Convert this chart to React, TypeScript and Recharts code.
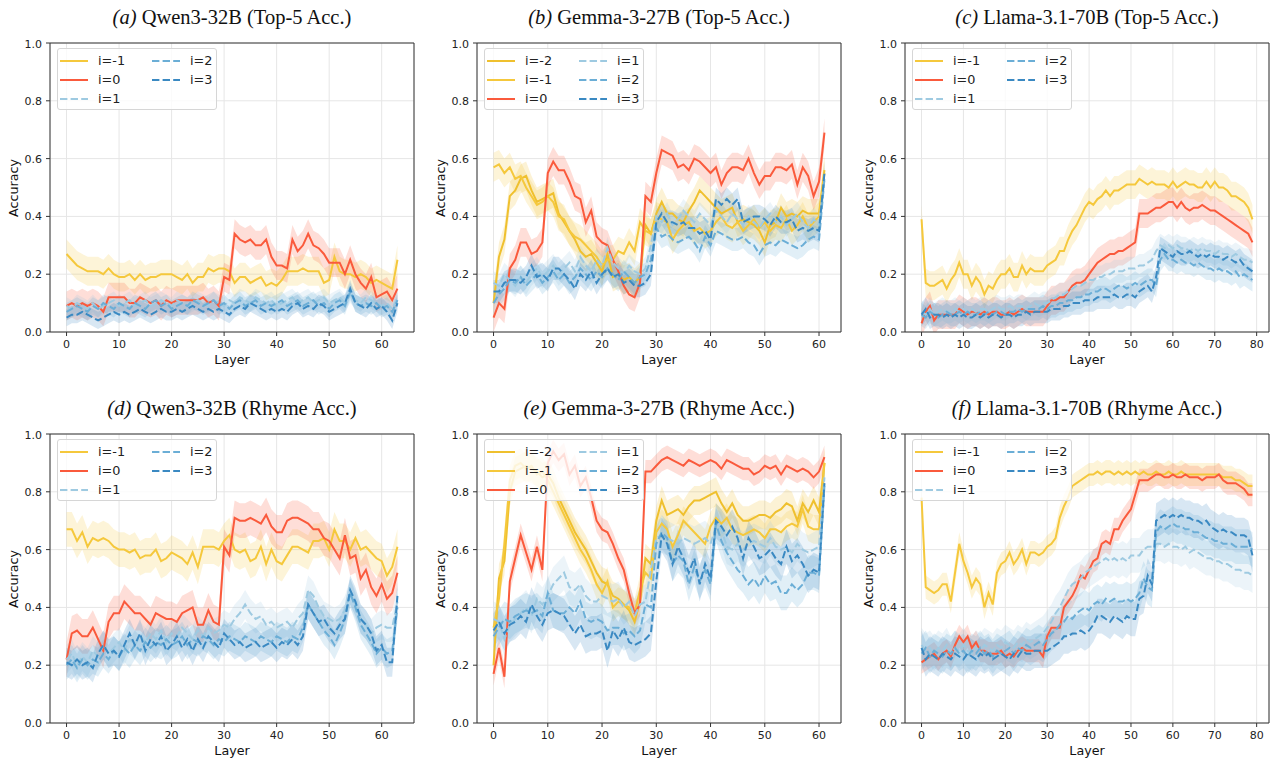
import { ComposedChart, Line, Area, XAxis, YAxis, CartesianGrid, ReferenceArea } from 'recharts';

const FONT = '"DejaVu Sans", sans-serif';
const SERIF = '"Liberation Serif", "Times New Roman", serif';

const GOLD = '#F5C83C';
const GOLD_2 = '#EFC02E';
const RED = '#FA5A3C';
const BLUE_1 = '#9ECAE1';
const BLUE_2 = '#6BAED6';
const BLUE_3 = '#3A89C2';

// layer indices (x categories)
const QWEN_LAYERS = Array.from({ length: 64 }, (_, i) => i);
const GEMMA_LAYERS = Array.from({ length: 62 }, (_, i) => i);
const LLAMA_LAYERS = Array.from({ length: 80 }, (_, i) => i);

const TICKS_60 = [0, 10, 20, 30, 40, 50, 60];
const TICKS_80 = [0, 10, 20, 30, 40, 50, 60, 70, 80];
const Y_TICKS = [0, 20, 40, 60, 80, 100];

const LABELS_5 = ['i=-1', 'i=0', 'i=1', 'i=2', 'i=3'];
const LABELS_6 = ['i=-2', 'i=-1', 'i=0', 'i=1', 'i=2', 'i=3'];
const COLORS_5 = [GOLD, RED, BLUE_1, BLUE_2, BLUE_3];
const COLORS_6 = [GOLD_2, GOLD, RED, BLUE_1, BLUE_2, BLUE_3];

// all accuracies in percent
const QWEN_TOP5_IM1 = [
  27, 25, 23, 22, 21, 21, 21, 20, 22, 20,
  19, 19, 20, 18, 20, 18, 19, 19, 20, 20,
  20, 19, 18, 20, 17, 19, 19, 22, 21, 22,
  22, 21, 17, 19, 19, 17, 18, 19, 16, 17,
  16, 18, 21, 21, 21, 22, 21, 21, 21, 17,
  18, 26, 21, 20, 20, 19, 20, 19, 17, 18,
  17, 16, 15, 25];
const QWEN_TOP5_I0 = [
  9, 10, 9, 10, 9, 10, 9, 7, 12, 12,
  12, 12, 10, 10, 12, 11, 10, 11, 9, 11,
  10, 11, 11, 11, 11, 11, 12, 10, 11, 9,
  19, 18, 34, 32, 31, 32, 30, 30, 32, 26,
  23, 23, 22, 32, 28, 30, 34, 30, 29, 27,
  24, 24, 24, 20, 25, 20, 17, 15, 19, 12,
  13, 14, 11, 15];
const QWEN_TOP5_I1 = [
  9, 8, 10, 9, 8, 10, 8, 9, 10, 11,
  9, 10, 11, 9, 10, 11, 9, 10, 11, 10,
  9, 11, 10, 9, 10, 11, 10, 9, 11, 10,
  9, 11, 10, 12, 11, 10, 12, 11, 10, 11,
  9, 10, 11, 12, 10, 11, 12, 10, 11, 12,
  10, 11, 12, 10, 13, 11, 10, 12, 11, 10,
  9, 10, 8, 12];
const QWEN_TOP5_I2 = [
  7, 8, 9, 8, 7, 9, 8, 10, 9, 8,
  10, 9, 8, 10, 9, 8, 10, 11, 9, 10,
  8, 9, 10, 9, 11, 10, 9, 10, 11, 9,
  10, 8, 10, 11, 9, 10, 11, 9, 10, 9,
  10, 11, 9, 10, 11, 9, 10, 11, 9, 10,
  8, 10, 11, 9, 14, 10, 9, 10, 9, 10,
  8, 9, 7, 11];
const QWEN_TOP5_I3 = [
  5, 6, 6, 7, 6, 5, 4, 5, 6, 7,
  6, 7, 6, 7, 8, 7, 6, 7, 8, 7,
  7, 8, 7, 8, 9, 8, 7, 8, 7, 8,
  7, 6, 8, 9, 8, 10, 9, 8, 7, 8,
  7, 8, 7, 9, 10, 8, 9, 8, 10, 9,
  7, 8, 9, 10, 15, 10, 9, 8, 10, 8,
  9, 7, 4, 10];
const QWEN_TOP5_BAND = [5, 5, 3, 3, 3];

const GEMMA_TOP5_IM2 = [
  10, 26, 32, 47, 49, 53, 54, 49, 45, 46,
  47, 48, 41, 38, 35, 32, 28, 26, 27, 24,
  21, 27, 19, 20, 18, 19, 17, 19, 37, 34,
  41, 45, 41, 41, 39, 38, 42, 45, 49, 47,
  45, 43, 41, 42, 43, 38, 39, 38, 37, 35,
  31, 37, 38, 43, 40, 41, 40, 42, 41, 41,
  41, 56];
const GEMMA_TOP5_IM1 = [
  57, 58, 55, 57, 53, 54, 50, 47, 44, 45,
  47, 45, 40, 39, 35, 33, 32, 30, 28, 26,
  23, 25, 25, 28, 27, 31, 28, 38, 35, 34,
  40, 39, 38, 32, 35, 37, 38, 35, 36, 34,
  35, 38, 40, 37, 36, 38, 35, 37, 39, 36,
  38, 35, 37, 36, 39, 35, 37, 40, 36, 38,
  40, 55];
const GEMMA_TOP5_I0 = [
  5, 10, 8, 22, 25, 31, 31, 27, 28, 31,
  55, 59, 56, 56, 52, 47, 46, 38, 42, 33,
  31, 30, 25, 21, 16, 13, 12, 17, 47, 45,
  55, 63, 62, 61, 57, 58, 56, 60, 59, 57,
  55, 57, 51, 55, 57, 57, 56, 60, 55, 51,
  54, 54, 57, 57, 56, 58, 51, 57, 54, 47,
  52, 69];
const GEMMA_TOP5_I1 = [
  17, 16, 20, 18, 16, 19, 17, 20, 22, 19,
  21, 23, 20, 22, 24, 21, 26, 23, 21, 25,
  23, 29, 24, 22, 20, 23, 21, 20, 22, 30,
  40, 38, 41, 37, 39, 42, 40, 38, 41, 39,
  37, 42, 40, 38, 41, 39, 37, 40, 38, 36,
  39, 41, 38, 40, 37, 39, 41, 38, 36, 39,
  37, 53];
const GEMMA_TOP5_I2 = [
  10, 13, 15, 18, 17, 19, 16, 18, 20, 17,
  19, 21, 18, 20, 17, 19, 22, 20, 18, 21,
  19, 22, 20, 18, 21, 19, 17, 19, 20, 25,
  36, 33, 34, 32, 31, 32, 33, 31, 28, 33,
  30, 35, 34, 33, 32, 32, 33, 31, 30, 27,
  30, 31, 30, 32, 31, 30, 29, 30, 32, 33,
  32, 53];
const GEMMA_TOP5_I3 = [
  14, 14, 17, 18, 18, 17, 19, 23, 19, 20,
  18, 22, 22, 20, 18, 15, 20, 18, 21, 17,
  20, 22, 19, 20, 17, 18, 16, 16, 17, 20,
  38, 41, 38, 38, 37, 38, 36, 36, 34, 35,
  32, 46, 44, 46, 44, 46, 38, 39, 40, 40,
  39, 37, 40, 38, 38, 39, 35, 36, 35, 36,
  35, 55];
const GEMMA_TOP5_BAND = [5, 5, 5, 4, 4, 4];

const LLAMA_TOP5_IM1 = [
  39, 17, 16, 16, 17, 18, 15, 18, 20, 24,
  20, 20, 16, 19, 17, 13, 16, 15, 18, 20,
  20, 22, 19, 19, 23, 20, 22, 21, 21, 21,
  23, 24, 25, 28, 28, 32, 35, 37, 40, 43,
  45, 44, 46, 47, 49, 47, 49, 49, 50, 51,
  51, 51, 53, 52, 51, 52, 51, 51, 51, 50,
  52, 50, 51, 52, 51, 51, 50, 50, 52, 50,
  52, 50, 50, 49, 47, 47, 46, 45, 43, 39];
const LLAMA_TOP5_I0 = [
  3, 7, 9, 4, 6, 6, 6, 6, 6, 8,
  7, 6, 7, 7, 6, 7, 6, 7, 7, 6,
  6, 7, 6, 7, 8, 7, 7, 7, 7, 7,
  9, 11, 11, 12, 12, 14, 16, 17, 17, 18,
  20, 22, 24, 25, 26, 27, 27, 28, 28, 29,
  30, 31, 41, 41, 41, 42, 43, 43, 44, 45,
  45, 43, 45, 43, 42, 43, 43, 44, 43, 42,
  42, 41, 40, 39, 38, 37, 36, 35, 34, 31];
const LLAMA_TOP5_I1 = [
  7, 6, 8, 6, 7, 8, 7, 7, 8, 7,
  8, 7, 8, 7, 8, 8, 7, 8, 9, 8,
  8, 9, 8, 9, 9, 8, 9, 10, 9, 10,
  10, 11, 12, 13, 13, 14, 15, 16, 16, 17,
  18, 18, 19, 19, 20, 20, 21, 21, 21, 22,
  22, 22, 23, 23, 24, 25, 28, 30, 29, 30,
  29, 30, 29, 29, 28, 29, 28, 29, 28, 28,
  27, 28, 27, 27, 26, 27, 26, 25, 25, 24];
const LLAMA_TOP5_I2 = [
  6, 5, 7, 6, 5, 6, 7, 6, 6, 7,
  6, 7, 6, 6, 7, 6, 7, 6, 7, 7,
  6, 7, 7, 8, 7, 8, 8, 8, 8, 9,
  8, 9, 9, 10, 10, 11, 11, 12, 12, 13,
  13, 14, 14, 15, 15, 14, 15, 16, 16, 15,
  16, 17, 16, 17, 18, 18, 16, 25, 27, 25,
  25, 24, 25, 24, 24, 23, 24, 23, 22, 22,
  21, 22, 21, 21, 20, 21, 19, 20, 19, 18];
const LLAMA_TOP5_I3 = [
  6, 8, 5, 6, 6, 5, 6, 5, 6, 5,
  6, 5, 5, 6, 5, 6, 5, 6, 6, 5,
  6, 6, 5, 6, 6, 7, 6, 7, 7, 7,
  7, 8, 8, 8, 9, 9, 10, 10, 10, 11,
  11, 11, 12, 12, 12, 12, 13, 12, 12, 13,
  13, 12, 14, 15, 16, 14, 19, 29, 28, 27,
  26, 28, 27, 27, 28, 27, 26, 27, 26, 27,
  26, 26, 25, 26, 25, 24, 25, 23, 22, 21];
const LLAMA_TOP5_BAND = [5, 5, 4, 4, 4];

const QWEN_RHYME_IM1 = [
  67, 67, 63, 66, 61, 64, 63, 64, 63, 61,
  60, 60, 59, 60, 57, 58, 58, 60, 56, 57,
  59, 58, 57, 55, 59, 54, 61, 61, 61, 60,
  63, 65, 60, 59, 60, 56, 57, 61, 55, 60,
  56, 55, 58, 61, 61, 60, 59, 63, 63, 64,
  60, 67, 63, 63, 60, 64, 60, 61, 59, 57,
  56, 51, 54, 61];
const QWEN_RHYME_I0 = [
  22, 31, 32, 30, 30, 33, 29, 25, 35, 38,
  38, 42, 40, 38, 38, 36, 34, 38, 37, 36,
  36, 35, 38, 39, 40, 34, 34, 39, 35, 34,
  61, 58, 71, 70, 70, 71, 70, 69, 72, 68,
  66, 66, 70, 71, 71, 70, 69, 67, 67, 64,
  63, 60, 57, 65, 57, 58, 50, 53, 47, 44,
  48, 43, 45, 52];
const QWEN_RHYME_I1 = [
  22, 24, 20, 23, 21, 25, 23, 27, 24, 26,
  28, 25, 29, 27, 30, 28, 31, 29, 32, 28,
  31, 30, 33, 31, 29, 32, 30, 33, 31, 32,
  34, 33, 36, 38, 41, 38, 36, 37, 34, 35,
  33, 34, 35, 33, 36, 38, 46, 44, 40, 37,
  36, 35, 36, 39, 45, 41, 36, 34, 31, 33,
  34, 33, 33, 42];
const QWEN_RHYME_I2 = [
  20, 22, 19, 22, 20, 22, 21, 24, 22, 25,
  23, 26, 24, 27, 25, 28, 26, 28, 27, 29,
  27, 28, 30, 27, 29, 28, 30, 29, 27, 29,
  28, 30, 29, 28, 30, 29, 28, 30, 29, 28,
  30, 29, 28, 30, 29, 33, 41, 38, 35, 32,
  30, 27, 31, 36, 45, 40, 34, 31, 28, 24,
  26, 24, 25, 40];
const QWEN_RHYME_I3 = [
  21, 20, 22, 20, 21, 19, 24, 27, 24, 25,
  23, 27, 31, 27, 31, 25, 29, 27, 30, 25,
  27, 30, 26, 29, 25, 29, 26, 30, 28, 26,
  31, 29, 27, 28, 26, 27, 28, 26, 27, 28,
  26, 28, 27, 29, 27, 30, 41, 38, 35, 36,
  33, 31, 34, 36, 46, 42, 36, 34, 31, 25,
  27, 21, 21, 44];
const QWEN_RHYME_BAND = [6, 6, 5, 5, 5];

const GEMMA_RHYME_IM2 = [
  20, 50, 56, 80, 87, 88, 89, 88, 87, 85,
  86, 83, 78, 74, 70, 66, 63, 60, 56, 52,
  49, 48, 44, 43, 41, 39, 35, 42, 57, 55,
  70, 77, 72, 73, 74, 72, 75, 77, 77, 78,
  79, 80, 76, 73, 76, 72, 70, 70, 71, 72,
  72, 71, 73, 74, 76, 75, 70, 76, 73, 77,
  73, 90];
const GEMMA_RHYME_IM1 = [
  33, 43, 62, 84, 89, 90, 88, 89, 86, 87,
  84, 80, 76, 72, 68, 64, 60, 57, 53, 48,
  45, 49, 40, 42, 41, 40, 38, 46, 52, 50,
  66, 69, 67, 61, 65, 70, 68, 66, 64, 62,
  68, 71, 69, 71, 67, 66, 65, 66, 67, 66,
  64, 67, 67, 66, 68, 69, 68, 74, 68, 67,
  67, 90];
const GEMMA_RHYME_I0 = [
  17, 26, 16, 49, 57, 65, 59, 53, 61, 53,
  90, 94, 91, 93, 86, 89, 82, 85, 78, 70,
  67, 66, 62, 57, 53, 45, 38, 41, 87, 87,
  89, 91, 92, 91, 90, 89, 91, 90, 89, 90,
  91, 90, 88, 91, 90, 89, 88, 88, 86, 87,
  89, 88, 89, 86, 89, 88, 87, 88, 87, 85,
  87, 92];
const GEMMA_RHYME_I1 = [
  36, 35, 29, 34, 36, 38, 40, 37, 43, 41,
  44, 48, 50, 52, 47, 46, 48, 44, 42, 42,
  44, 43, 42, 43, 40, 42, 37, 41, 42, 53,
  64, 65, 64, 63, 62, 64, 63, 62, 63, 64,
  62, 68, 67, 61, 60, 62, 60, 62, 63, 62,
  61, 64, 61, 60, 61, 59, 62, 60, 59, 60,
  61, 85];
const GEMMA_RHYME_I2 = [
  30, 33, 36, 35, 37, 38, 39, 38, 39, 37,
  45, 39, 38, 38, 40, 38, 42, 36, 35, 36,
  35, 32, 33, 33, 31, 32, 30, 32, 41, 40,
  62, 66, 64, 55, 58, 56, 48, 54, 49, 53,
  48, 69, 63, 59, 56, 53, 51, 48, 50, 47,
  51, 48, 49, 45, 45, 48, 46, 48, 52, 52,
  51, 82];
const GEMMA_RHYME_I3 = [
  32, 35, 31, 34, 35, 37, 35, 41, 37, 34,
  38, 39, 38, 37, 34, 31, 34, 30, 31, 31,
  32, 25, 32, 29, 33, 28, 27, 28, 29, 31,
  49, 65, 62, 55, 61, 57, 52, 57, 48, 55,
  50, 70, 68, 65, 68, 64, 57, 64, 61, 57,
  58, 60, 57, 55, 61, 56, 58, 55, 51, 53,
  52, 83];
const GEMMA_RHYME_BAND = [5, 5, 4, 6, 6, 6];

const LLAMA_RHYME_IM1 = [
  78, 47, 46, 45, 46, 48, 48, 42, 52, 62,
  56, 52, 47, 50, 48, 40, 45, 41, 52, 55,
  56, 59, 55, 57, 60, 55, 59, 59, 58, 59,
  61, 62, 64, 71, 75, 78, 82, 83, 84, 85,
  86, 86, 87, 86, 87, 87, 86, 87, 86, 87,
  86, 87, 86, 87, 86, 86, 87, 86, 86, 87,
  86, 86, 87, 86, 86, 86, 86, 86, 86, 86,
  86, 86, 85, 85, 85, 84, 84, 83, 82, 82];
const LLAMA_RHYME_I0 = [
  21, 22, 23, 24, 22, 24, 25, 23, 27, 30,
  28, 30, 26, 28, 25, 25, 24, 24, 24, 25,
  23, 24, 23, 25, 26, 25, 25, 25, 25, 23,
  30, 33, 33, 33, 40, 42, 44, 47, 51, 50,
  53, 56, 57, 62, 63, 62, 67, 67, 70, 72,
  74, 79, 84, 84, 84, 85, 86, 86, 85, 85,
  86, 85, 85, 86, 85, 85, 85, 84, 85, 85,
  85, 86, 84, 83, 83, 83, 82, 81, 79, 79];
const LLAMA_RHYME_I1 = [
  27, 25, 26, 24, 26, 25, 27, 24, 26, 25,
  27, 25, 24, 26, 25, 27, 26, 25, 27, 26,
  28, 27, 26, 28, 27, 29, 28, 29, 30, 31,
  33, 35, 38, 40, 43, 46, 48, 49, 50, 52,
  53, 54, 55, 56, 57, 56, 57, 56, 57, 56,
  58, 58, 58, 60, 61, 61, 62, 62, 61, 62,
  61, 61, 60, 61, 59, 60, 59, 58, 57, 57,
  56, 56, 55, 55, 54, 53, 53, 52, 52, 51];
const LLAMA_RHYME_I2 = [
  24, 26, 23, 25, 24, 23, 25, 24, 26, 24,
  25, 23, 25, 24, 26, 24, 25, 23, 25, 24,
  25, 26, 24, 26, 25, 27, 26, 27, 28, 27,
  29, 31, 32, 34, 35, 37, 36, 38, 39, 40,
  39, 41, 42, 41, 43, 42, 43, 42, 42, 43,
  42, 43, 45, 50, 47, 46, 66, 68, 67, 68,
  69, 68, 68, 67, 67, 66, 66, 65, 64, 64,
  63, 63, 62, 62, 62, 61, 61, 61, 61, 60];
const LLAMA_RHYME_I3 = [
  26, 22, 24, 23, 22, 24, 23, 22, 24, 23,
  22, 24, 23, 22, 24, 23, 24, 22, 23, 24,
  23, 22, 24, 23, 25, 24, 24, 25, 25, 25,
  25, 26, 27, 28, 30, 30, 31, 31, 32, 31,
  32, 34, 37, 37, 36, 35, 37, 36, 35, 37,
  36, 36, 43, 44, 51, 48, 70, 71, 72, 71,
  72, 71, 72, 71, 71, 70, 70, 69, 70, 68,
  67, 66, 67, 66, 66, 65, 65, 65, 64, 58];
const LLAMA_RHYME_BAND = [4, 4, 6, 6, 6];

const PLOT_W = 364;
const PLOT_H = 289;
const Y_AXIS_W = 45;
const X_AXIS_H = 25;
const TOP_PAD = 5;
const RIGHT_PAD = 5;

type Series = { label: string; color: string; dashed: boolean; values: number[]; band: number };

function makeSeries(labels: string[], colors: string[], values: number[][], bands: number[]): Series[] {
  return labels.map((label, k) => ({
    label,
    color: colors[k],
    dashed: Number(label.slice(2)) > 0,
    values: values[k],
    band: bands[k],
  }));
}

interface PanelProps {
  tag: string;
  title: string;
  left: number;
  top: number;
  layers: number[];
  xTicks: number[];
  series: Series[];
}

function Panel({ tag, title, left, top, layers, xTicks, series }: PanelProps) {
  const first = layers[0];
  const last = layers[layers.length - 1];
  const pad = 0.05 * (last - first);
  const xDomain: [number, number] = [first - pad, last + pad];

  const data = layers.map((layer, k) => {
    const row: Record<string, number | number[]> = { layer };
    series.forEach((s, j) => {
      row[`v${j}`] = s.values[k];
      row[`b${j}`] = [s.values[k] - s.band, s.values[k] + s.band];
    });
    return row;
  });

  const rows = Math.ceil(series.length / 2);
  const tickStyle = { fontSize: 11, fill: '#222', fontFamily: FONT };

  return (
    <>
      <div
        style={{
          position: 'absolute', left: left - 20, width: PLOT_W + 40, top: top - 38, textAlign: 'center',
          fontFamily: SERIF, fontSize: 20.5, lineHeight: '24px', color: '#111', whiteSpace: 'nowrap',
        }}
      >
        <i>({tag})</i> {title}
      </div>

      <div style={{ position: 'absolute', left: left - Y_AXIS_W, top: top - TOP_PAD }}>
        <ComposedChart
          width={Y_AXIS_W + PLOT_W + RIGHT_PAD}
          height={TOP_PAD + PLOT_H + X_AXIS_H}
          data={data}
          margin={{ top: TOP_PAD, right: RIGHT_PAD, bottom: 0, left: 0 }}
        >
          <CartesianGrid stroke="#e6e6e6" />
          <XAxis
            dataKey="layer"
            type="number"
            domain={xDomain}
            ticks={xTicks}
            allowDataOverflow
            height={X_AXIS_H}
            axisLine={false}
            tickLine={{ stroke: '#333' }}
            tickSize={4}
            tickMargin={4}
            tick={tickStyle}
          />
          <YAxis
            type="number"
            domain={[0, 100]}
            ticks={Y_TICKS}
            allowDataOverflow
            width={Y_AXIS_W}
            axisLine={false}
            tickLine={{ stroke: '#333' }}
            tickSize={4}
            tickMargin={4}
            tick={tickStyle}
            tickFormatter={(v: number) => (v / 100).toFixed(1)}
          />
          {series.map((s, j) => (
            <Area
              key={`b${j}`}
              dataKey={`b${j}`}
              type="linear"
              stroke="none"
              fill={s.color}
              fillOpacity={0.2}
              isAnimationActive={false}
            />
          ))}
          {series.map((s, j) => (
            <Line
              key={`v${j}`}
              dataKey={`v${j}`}
              type="linear"
              stroke={s.color}
              strokeWidth={2}
              strokeDasharray={s.dashed ? '7.4 3.2' : undefined}
              dot={false}
              isAnimationActive={false}
            />
          ))}
          <ReferenceArea x1={xDomain[0]} x2={xDomain[1]} y1={0} y2={100} fill="none" stroke="#333" strokeWidth={1} />
        </ComposedChart>
      </div>

      {/* legend */}
      <div
        style={{
          position: 'absolute', left: left + 7, top: top + 5, width: 160, height: 62,
          border: '1px solid #d6d6d6', borderRadius: 3, background: 'rgba(255,255,255,0.8)',
          boxSizing: 'border-box',
        }}
      >
        {series.map((s, j) => {
          const col = Math.floor(j / rows);
          const row = j % rows;
          return (
            <div
              key={s.label}
              style={{ position: 'absolute', left: 2 + col * 92, top: 2 + row * 19, height: 19, display: 'flex', alignItems: 'center' }}
            >
              <svg width={28} height={10}>
                <line x1={0} x2={28} y1={5} y2={5} stroke={s.color} strokeWidth={2} strokeDasharray={s.dashed ? '7.4 3.2' : undefined} />
              </svg>
              <span style={{ marginLeft: 10, fontSize: 12.8, fontFamily: FONT, color: '#222', lineHeight: '19px' }}>{s.label}</span>
            </div>
          );
        })}
      </div>

      <div
        style={{
          position: 'absolute', left, width: PLOT_W, top: top + 309, textAlign: 'center',
          fontSize: 12.7, lineHeight: '16px', fontFamily: FONT, color: '#111',
        }}
      >
        Layer
      </div>
      <div
        style={{
          position: 'absolute', left: left - 36 - 50, width: 100, top: top + PLOT_H / 2 - 8, height: 16,
          textAlign: 'center', fontSize: 12.7, lineHeight: '16px', fontFamily: FONT, color: '#111',
          transform: 'rotate(-90deg)',
        }}
      >
        Accuracy
      </div>
    </>
  );
}

export default function App() {
  return (
    <div style={{ position: 'absolute', left: 0, top: 0, width: 1272, height: 761, background: '#fff', overflow: 'hidden' }}>
      <Panel
        tag="a" title="Qwen3-32B (Top-5 Acc.)" left={50} top={43} layers={QWEN_LAYERS} xTicks={TICKS_60}
        series={makeSeries(LABELS_5, COLORS_5, [QWEN_TOP5_IM1, QWEN_TOP5_I0, QWEN_TOP5_I1, QWEN_TOP5_I2, QWEN_TOP5_I3], QWEN_TOP5_BAND)}
      />
      <Panel
        tag="b" title="Gemma-3-27B (Top-5 Acc.)" left={477} top={43} layers={GEMMA_LAYERS} xTicks={TICKS_60}
        series={makeSeries(LABELS_6, COLORS_6, [GEMMA_TOP5_IM2, GEMMA_TOP5_IM1, GEMMA_TOP5_I0, GEMMA_TOP5_I1, GEMMA_TOP5_I2, GEMMA_TOP5_I3], GEMMA_TOP5_BAND)}
      />
      <Panel
        tag="c" title="Llama-3.1-70B (Top-5 Acc.)" left={905} top={43} layers={LLAMA_LAYERS} xTicks={TICKS_80}
        series={makeSeries(LABELS_5, COLORS_5, [LLAMA_TOP5_IM1, LLAMA_TOP5_I0, LLAMA_TOP5_I1, LLAMA_TOP5_I2, LLAMA_TOP5_I3], LLAMA_TOP5_BAND)}
      />
      <Panel
        tag="d" title="Qwen3-32B (Rhyme Acc.)" left={50} top={434} layers={QWEN_LAYERS} xTicks={TICKS_60}
        series={makeSeries(LABELS_5, COLORS_5, [QWEN_RHYME_IM1, QWEN_RHYME_I0, QWEN_RHYME_I1, QWEN_RHYME_I2, QWEN_RHYME_I3], QWEN_RHYME_BAND)}
      />
      <Panel
        tag="e" title="Gemma-3-27B (Rhyme Acc.)" left={477} top={434} layers={GEMMA_LAYERS} xTicks={TICKS_60}
        series={makeSeries(LABELS_6, COLORS_6, [GEMMA_RHYME_IM2, GEMMA_RHYME_IM1, GEMMA_RHYME_I0, GEMMA_RHYME_I1, GEMMA_RHYME_I2, GEMMA_RHYME_I3], GEMMA_RHYME_BAND)}
      />
      <Panel
        tag="f" title="Llama-3.1-70B (Rhyme Acc.)" left={905} top={434} layers={LLAMA_LAYERS} xTicks={TICKS_80}
        series={makeSeries(LABELS_5, COLORS_5, [LLAMA_RHYME_IM1, LLAMA_RHYME_I0, LLAMA_RHYME_I1, LLAMA_RHYME_I2, LLAMA_RHYME_I3], LLAMA_RHYME_BAND)}
      />
    </div>
  );
}
